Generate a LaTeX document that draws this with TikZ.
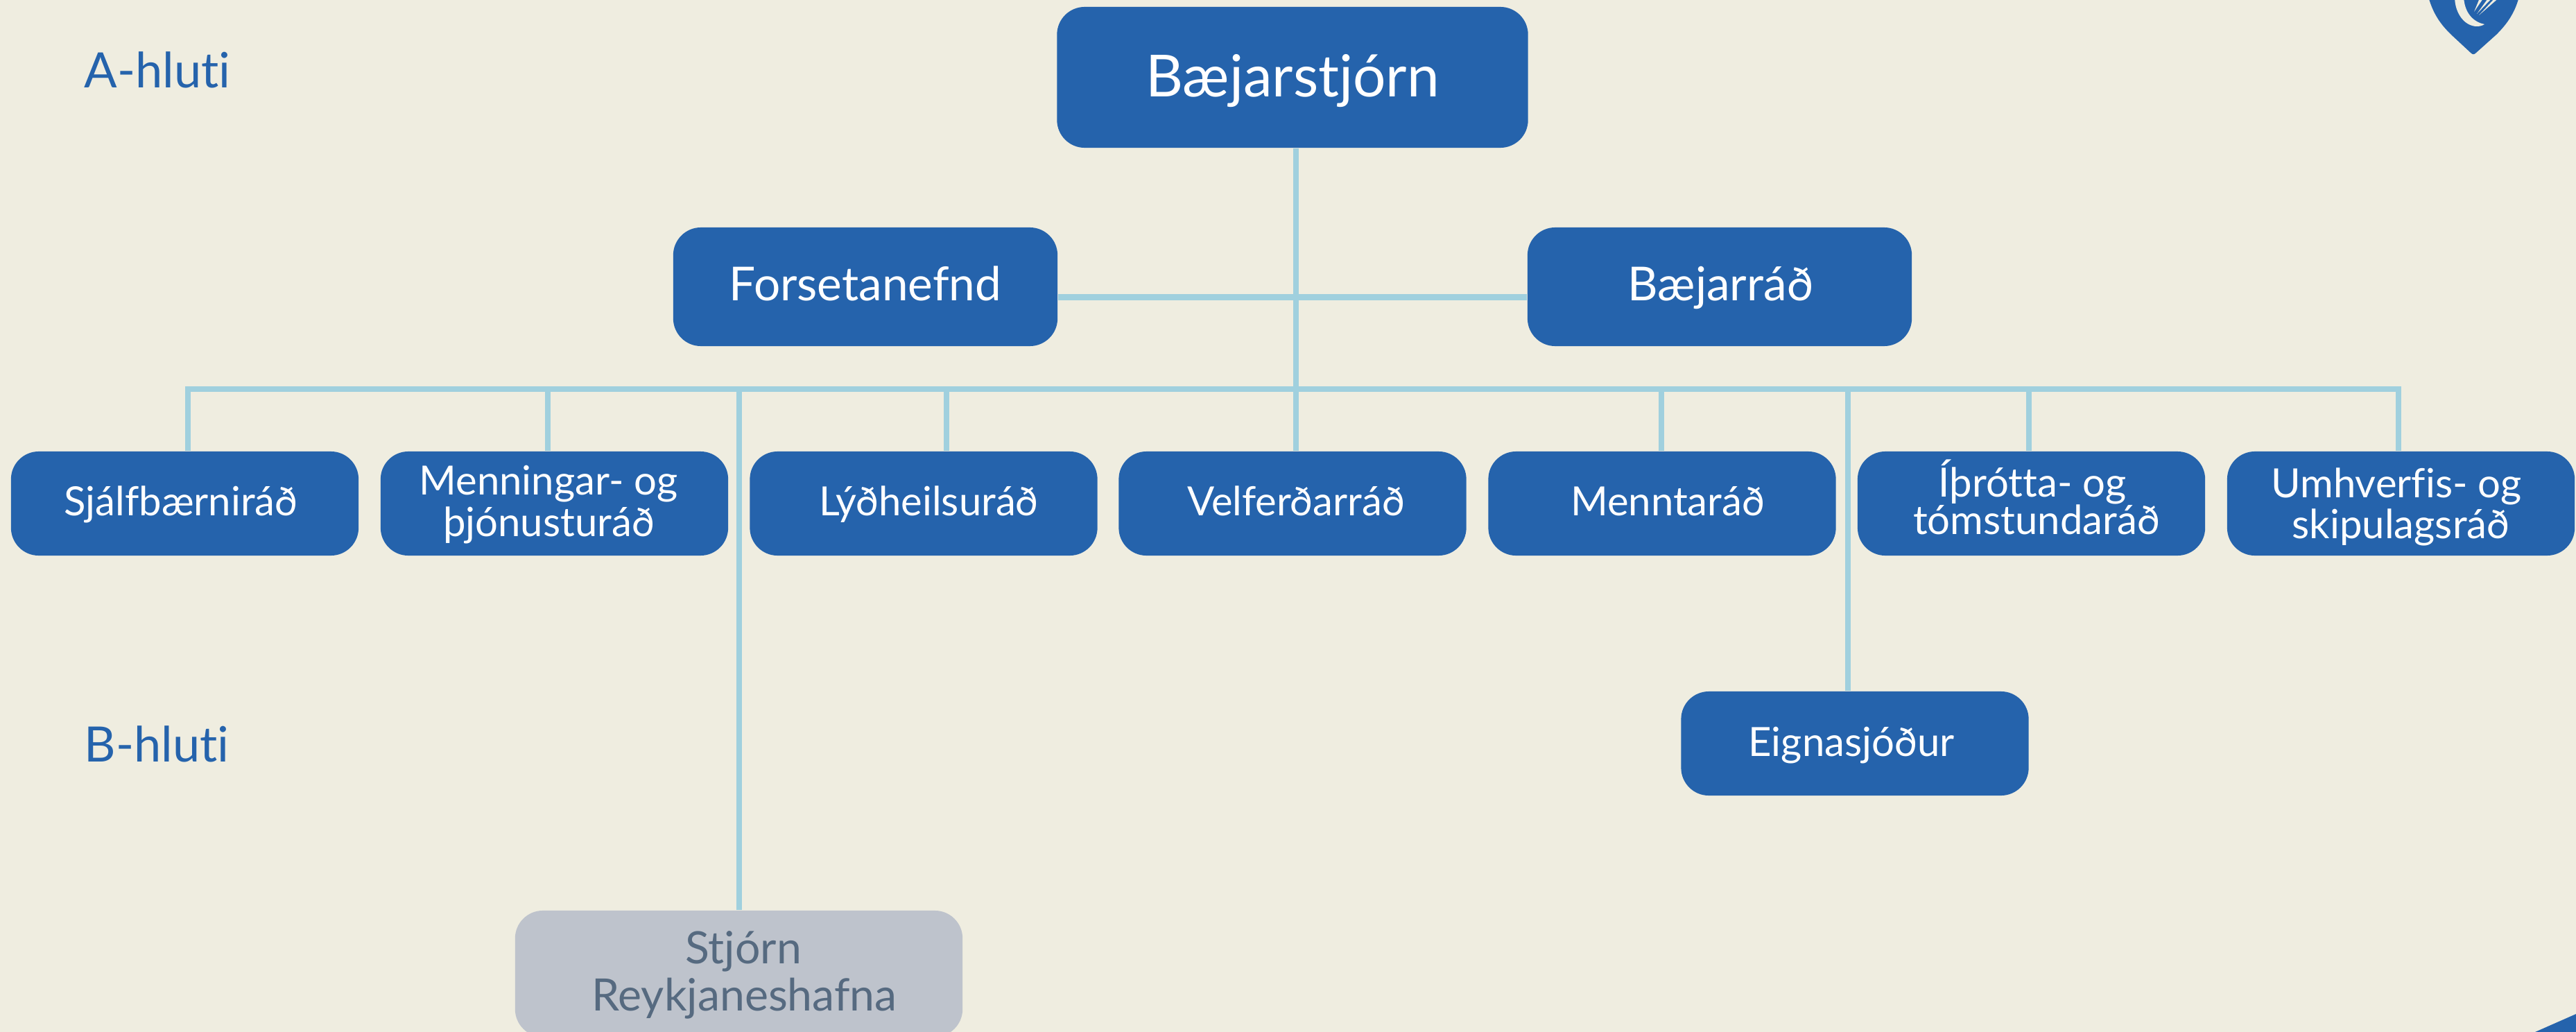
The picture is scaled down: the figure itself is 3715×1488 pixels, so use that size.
\documentclass[tikz,border=0pt]{standalone}
\usepackage{fontspec}
\setmainfont[Ligatures=CommonOff]{Lato}
\definecolor{bgc}{HTML}{EFEDE0}
\definecolor{blu}{HTML}{2563AC}
\definecolor{lnk}{HTML}{A0D0DE}
\definecolor{gry}{HTML}{BEC3CC}
\definecolor{gtx}{HTML}{566A80}
% one line of text: x offset, baseline below centre, text
\newcommand\oneL[3]{\raisebox{-#2}[0pt][0pt]{\hbox to 0pt{\kern#1\hbox to 0pt{\hss #3\hss}\hss}}}
% two lines: offset 1, baseline 1, offset 2, baseline 2, text 1, text 2
\newcommand\twoL[6]{\oneL{#1}{#2}{#5}\oneL{#3}{#4}{#6}}
\tikzset{
 x=0.01cm,y=-0.01cm,
 box/.style={fill=blu,text=white,rounded corners=0.4cm,inner sep=0pt,anchor=center},
 bigbox/.style={box,minimum width=6.79cm,minimum height=2.03cm,font=\fontsize{23.8}{28}\selectfont},
 midbox/.style={box,minimum width=5.54cm,minimum height=1.71cm,font=\fontsize{19.2}{22}\selectfont},
 rowbox/.style={box,minimum width=5.01cm,minimum height=1.50cm,font=\fontsize{16.5}{17}\selectfont},
 greybox/.style={box,fill=gry,text=gtx,minimum width=6.45cm,minimum height=1.82cm,font=\fontsize{18.3}{19.5}\selectfont},
 side/.style={text=blu,inner sep=0pt,font=\fontsize{20}{22}\selectfont},
 link/.style={draw=lnk,line width=0.085cm,line cap=butt},
}
\begin{document}
\begin{tikzpicture}
\useasboundingbox (0,0) rectangle (3715,1488);
\clip (0,0) rectangle (3715,1488);
\fill[bgc] (0,0) rectangle (3715,1488);
% boxes
\node[bigbox] (top) at (1864,111.5) {\oneL{0cm}{.275cm}{Bæjarstjórn}};
\node[midbox] (fors) at (1248,413.5) {\oneL{0cm}{.195cm}{Forsetanefnd}};
\node[midbox] (baej) at (2480,413.5) {\oneL{.015cm}{.195cm}{Bæjarráð}};
\node[rowbox] (n1) at (266.5,726) {\oneL{-.055cm}{.175cm}{Sjálfbærniráð}};
\node[rowbox] (n2) at (799.5,726) {\twoL{-.085cm}{-.13cm}{-.08cm}{.47cm}{Menningar- og}{þjónusturáð}};
\node[rowbox] (n3) at (1332,726) {\oneL{.075cm}{.175cm}{Lýðheilsuráð}};
\node[rowbox] (n4) at (1864,726) {\oneL{.05cm}{.175cm}{Velferðarráð}};
\node[rowbox] (n5) at (2397,726) {\oneL{.08cm}{.175cm}{Menntaráð}};
\node[rowbox] (n6) at (2929.5,726) {\twoL{.015cm}{-.10cm}{.075cm}{.44cm}{Íþrótta- og}{tómstundaráð}};
\node[rowbox] (n7) at (3462.5,726) {\twoL{-.065cm}{-.09cm}{0cm}{.50cm}{Umhverfis- og}{skipulagsráð}};
\node[rowbox] (eign) at (2675,1072) {\oneL{-.05cm}{.18cm}{Eignasjóður}};
\node[greybox] (stj) at (1065.5,1404) {\twoL{.065cm}{-.15cm}{.08cm}{.53cm}{Stjórn}{Reykjaneshafna}};
\node[side,anchor=west] (a) at (121,101) {A-hluti};
\node[side,anchor=west] (b) at (121,1073) {B-hluti};
% coordinates on the buses
\coordinate (busL) at (271,561);
\coordinate (busR) at (3459,561);
\coordinate (mid) at (1869,428.5);
\coordinate (busC) at (1869,561);
\coordinate (j2) at (790,561);
\coordinate (j3) at (1066,561);
\coordinate (j4) at (1365,561);
\coordinate (j6) at (2396,561);
\coordinate (j7) at (2665,561);
\coordinate (j8) at (2926,561);
% connectors
\draw[link] (busL |- n1.north) -- (busL) -- (busR) -- (busR |- n7.north);
\draw[link] (busC) -- (busC |- top.south);
\draw[link] (mid -| fors.east) -- (mid -| baej.west);
\draw[link] (j2) -- (j2 |- n2.north);
\draw[link] (j3) -- (j3 |- stj.north);
\draw[link] (j4) -- (j4 |- n3.north);
\draw[link] (busC) -- (busC |- n4.north);
\draw[link] (j6) -- (j6 |- n5.north);
\draw[link] (j7) -- (j7 |- eign.north);
\draw[link] (j8) -- (j8 |- n6.north);
% logo
\fill[blu] (3502,-5) .. controls (3510,25) and (3525,40) .. (3535,50) -- (3563,76)
  .. controls (3566,79) and (3568,79) .. (3571,76) -- (3600,50)
  .. controls (3612,38) and (3626,22) .. (3633,-5) -- cycle;
\fill[bgc] (3540,-5) .. controls (3540,20) and (3555,38) .. (3572,38)
  .. controls (3576,38) and (3580,37) .. (3583,35)
  .. controls (3568,32) and (3554,20) .. (3553,-5) -- cycle;
\fill[bgc] (3568,17) -- (3577,-5) -- (3583,-5) -- cycle;
\fill[bgc] (3572,20) -- (3590,-5) -- (3596,-5) -- cycle;
\fill[bgc] (3575,22) -- (3600,-5) -- (3606,-5) -- cycle;
% corner
\fill[blu] (3656,1488) -- (3715,1462) -- (3715,1488) -- cycle;
\end{tikzpicture}
\end{document}
